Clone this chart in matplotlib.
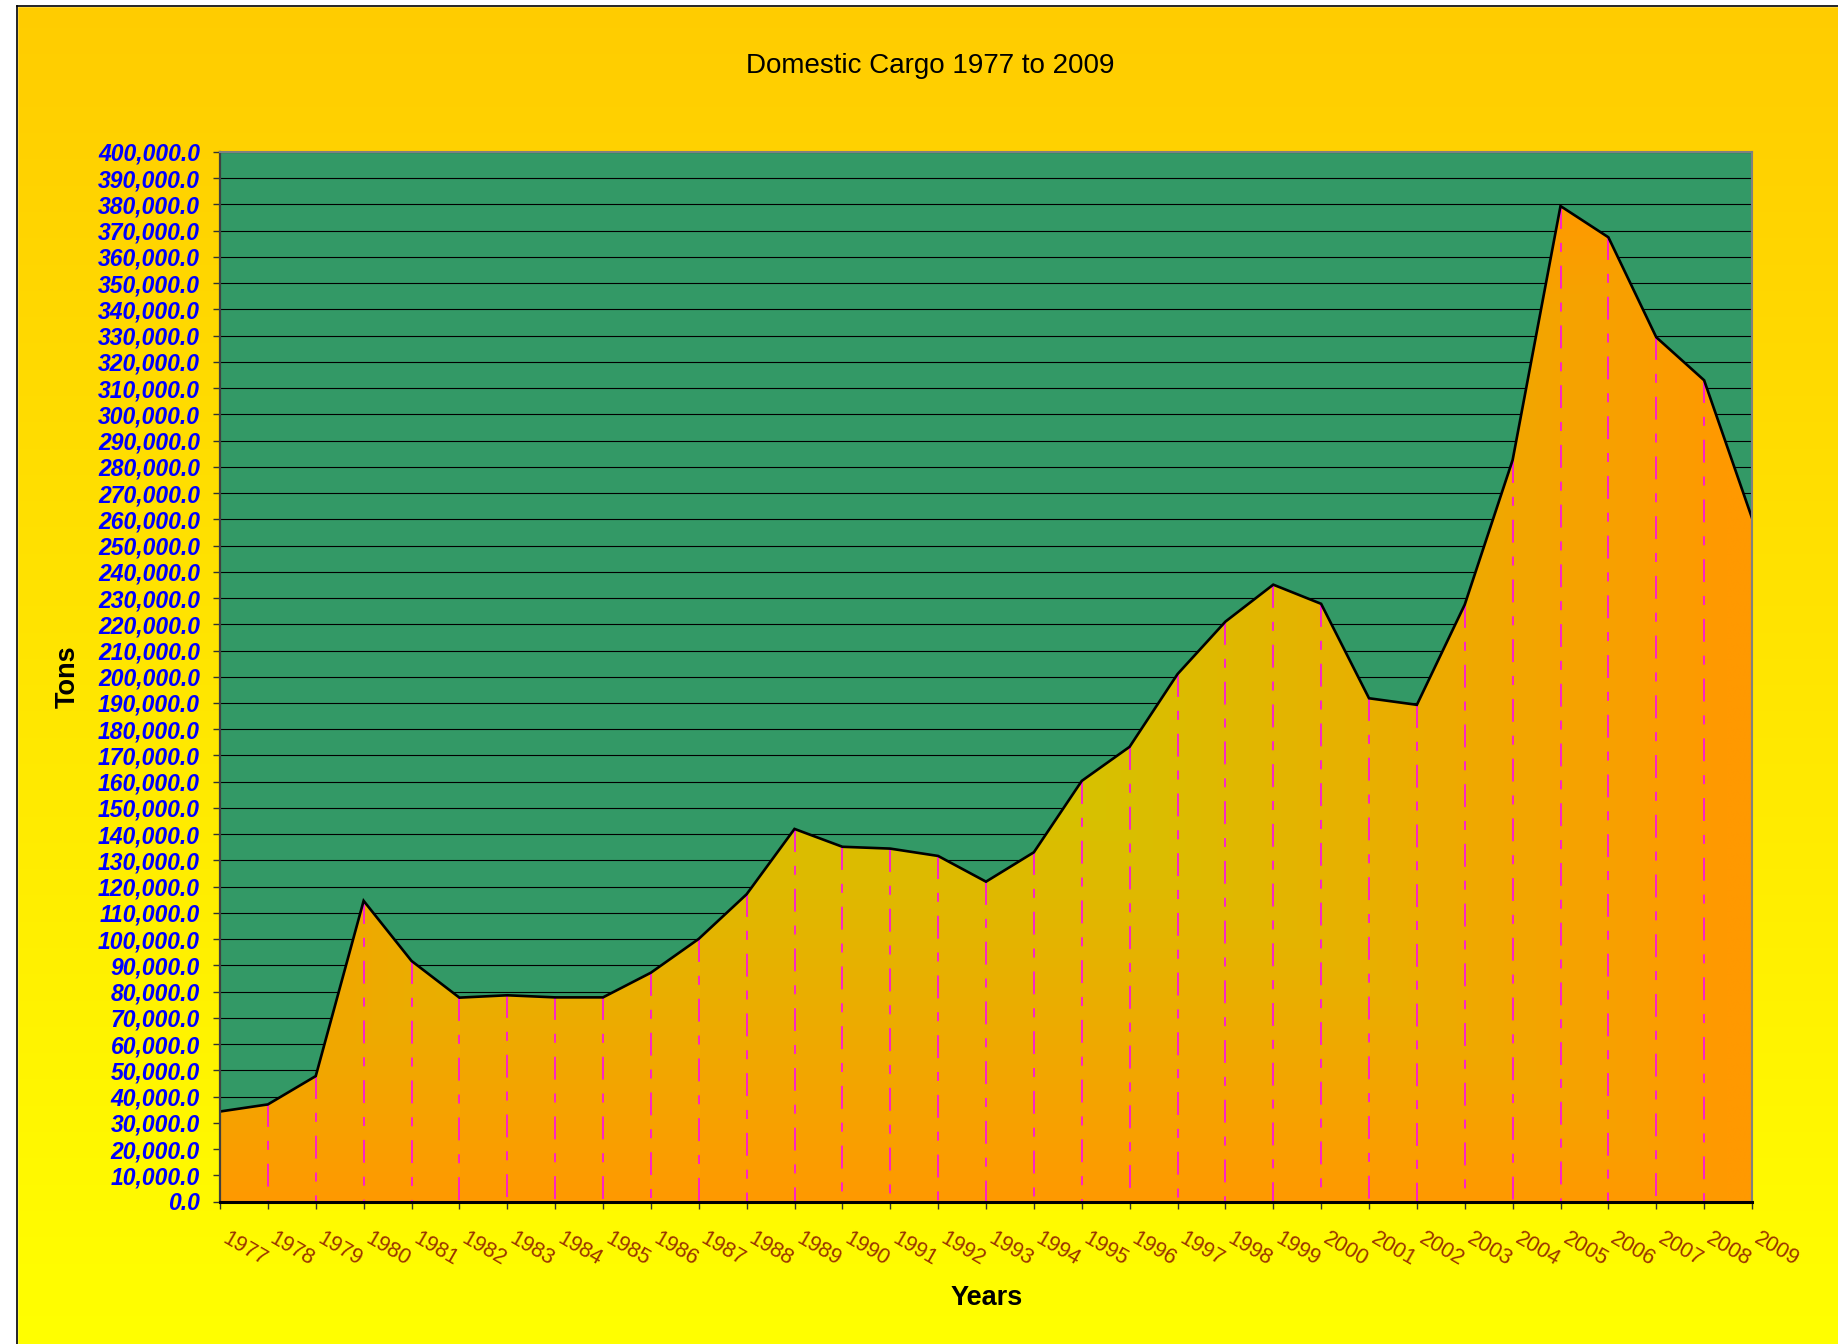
import numpy as np
import matplotlib
matplotlib.use('Agg')
import matplotlib.pyplot as plt
from matplotlib.colors import to_rgb
from matplotlib.patches import Polygon, Rectangle
from matplotlib.transforms import ScaledTranslation

plt.rcParams['font.family'] = ['Liberation Sans', 'DejaVu Sans']
plt.rcParams['lines.scale_dashes'] = False

# ---- data ----
years = [str(y) for y in range(1977, 2010)]
tons = [34300, 37000, 47800, 114600, 91700, 77700, 78600, 77800, 77800, 87200,
        100100, 117100, 142000, 135200, 134500, 131700, 121900, 133100, 160300, 173300,
        201000, 221000, 235100, 227800, 191800, 189300, 227500, 282600, 379400, 367500,
        329400, 313000, 260500]
title = "Domestic Cargo 1977 to 2009"
xlabel = "Years"
ylabel = "Tons"
y_max = 400000
y_step = 10000

W, H = 1838, 1344
fig = plt.figure(figsize=(W / 100, H / 100), dpi=100)

# ---- figure background (vertical gradient + border) ----
bg = fig.add_axes([0, 0, 1, 1], zorder=-10)
bg.set_axis_off()
g = np.linspace(0, 1, 512).reshape(-1, 1, 1)
ctop = np.array(to_rgb('#FFCC00'))
cbot = np.array(to_rgb('#FFFF00'))
bgimg = ctop + (cbot - ctop) * g
bgimg = np.repeat(bgimg, 2, axis=1)
bg.imshow(bgimg, extent=[0, 1, 0, 1], aspect='auto', origin='upper')
bg.add_patch(Rectangle((0, 0), 17 / W, 1, color='white', zorder=2))
bg.add_patch(Rectangle((0, 1 - 6 / H), 1, 6 / H, color='white', zorder=2))
bg.plot([17 / W, 17 / W], [0, 1 - 6 / H], color='black', lw=1.2, zorder=3)
bg.plot([17 / W, 1], [1 - 6 / H, 1 - 6 / H], color='black', lw=1.2, zorder=3)
bg.set_xlim(0, 1)
bg.set_ylim(0, 1)

# ---- main axes ----
left, right, top, bottom = 220, 1752, 152, 1201.5
ax = fig.add_axes([left / W, 1 - bottom / H, (right - left) / W, (bottom - top) / H])
ax.set_facecolor('#339966')

x = np.arange(len(years))
vals = np.array(tons, dtype=float)

# gradient fill clipped to the area polygon
nx, ny = 900, 1000
gx = np.linspace(0, len(years) - 1, nx)
gy = np.linspace(0, y_max, ny)
GX, GY = np.meshgrid(gx, gy)
cx, axr = 14.5, 17.0
cy = vals.max() / 2
ayr = vals.max() / 2
d = np.maximum(np.abs(GX - cx) / axr, np.abs(GY - cy) / ayr)
t = np.clip(1 - d, 0, 1)[..., None]
c_edge = np.array(to_rgb('#FF9900'))
c_center = np.array(to_rgb('#CCCC00'))
fillimg = c_edge + (c_center - c_edge) * t
im = ax.imshow(fillimg, extent=[0, len(years) - 1, 0, y_max], origin='lower',
               aspect='auto', zorder=2, interpolation='bilinear')
verts = list(zip(x, vals)) + [(x[-1], 0), (x[0], 0)]
poly = Polygon(verts, closed=True, facecolor='none', edgecolor='none', transform=ax.transData)
ax.add_patch(poly)
im.set_clip_path(poly)

# drop lines
ax.vlines(x, vals, 0, colors='#FF00FF', linestyles=[(0, (16.5, 10, 6.5, 10))],
          lw=1.1, zorder=3)
# outline
ax.plot(x, vals, color='black', lw=1.9, zorder=4, solid_joinstyle='miter')

ax.set_xlim(0, len(years) - 1)
ax.set_ylim(0, y_max)

# grid
ax.set_yticks(np.arange(0, y_max + 1, y_step))
ax.yaxis.grid(True, color='black', lw=0.8)
ax.set_axisbelow(True)

ax.set_yticklabels([f"{v:,.1f}" for v in np.arange(0, y_max + 1, y_step)])
ax.tick_params(axis='y', direction='out', length=5, width=1, color='#333333', pad=9.4,
               labelsize=16.5, labelcolor='#0000FF')
for lab in ax.get_yticklabels():
    lab.set_fontweight('bold')
    lab.set_fontstyle('italic')

ax.set_xticks(x)
ax.set_xticklabels(years, rotation=-30, ha='left', va='top', rotation_mode='anchor')
ax.tick_params(axis='x', direction='out', length=5, width=1, color='#333333', pad=14,
               labelsize=15.5, labelcolor='#993300')
for lab in ax.get_xticklabels():
    lab.set_transform(lab.get_transform() + ScaledTranslation(9 / 100, 0, fig.dpi_scale_trans))

for s in ['top', 'right']:
    ax.spines[s].set_color('#808080')
    ax.spines[s].set_linewidth(1.5)
ax.spines['left'].set_color('#404040')
ax.spines['left'].set_linewidth(1.6)
ax.spines['bottom'].set_color('black')
ax.spines['bottom'].set_linewidth(2.2)
for s in ax.spines.values():
    s.set_zorder(5)

# texts
fig.text(930 / W, 1 - 66 / H, title, ha='center', va='center', fontsize=20, color='black')
fig.text(68 / W, 1 - 676.5 / H, ylabel, rotation=90, ha='center', va='center',
         fontsize=19.5, fontweight='bold', color='black')
fig.text(987 / W, 1 - 1298 / H, xlabel, ha='center', va='center',
         fontsize=19.5, fontweight='bold', color='black')

fig.savefig('out.png', dpi=100)
